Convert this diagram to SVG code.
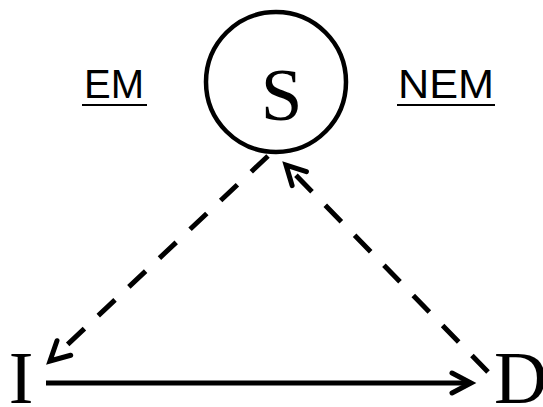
<svg xmlns="http://www.w3.org/2000/svg" width="543" height="407" viewBox="0 0 543 407">
<style>
.node-ring{fill:none;stroke:#000;stroke-width:4.5}
.big{font-family:"Liberation Serif","Times New Roman",serif;fill:#000}
.lbl{font-family:"Liberation Sans",Arial,sans-serif;font-size:40px;fill:#000}
.ul{stroke:#000;stroke-width:2}
.edge{fill:none;stroke:#000;stroke-width:5}
.dash{stroke-dasharray:23 19}
</style>
<defs>
<marker id="chev" markerUnits="userSpaceOnUse" viewBox="-30 -15 40 30" refX="0" refY="0" markerWidth="40" markerHeight="30" orient="auto" overflow="visible">
<path d="M -19,-10 L 0,0 L -19,10" fill="none" stroke="#000" stroke-width="5" stroke-linecap="round" stroke-linejoin="miter"/>
</marker>
</defs>
<g id="connectors">
<path class="edge dash" d="M 268,156 L 50,361" marker-end="url(#chev)"/>
<path class="edge dash" d="M 488,372 L 286,165" marker-end="url(#chev)"/>
<path class="edge" d="M 46,383 L 471,383" marker-end="url(#chev)"/>
</g>
<g id="node-S">
<circle class="node-ring" cx="276" cy="82" r="70"/>
<text class="big" x="281.5" y="120" font-size="75" text-anchor="middle">S</text>
</g>
<g id="node-I">
<text class="big" x="8.7" y="403" font-size="74">I</text>
</g>
<g id="node-D">
<text class="big" x="494" y="403" font-size="74">D</text>
</g>
<g id="label-EM">
<text class="lbl" x="84" y="98" textLength="60" lengthAdjust="spacingAndGlyphs">EM</text>
<line class="ul" x1="82" y1="105" x2="147" y2="105"/>
</g>
<g id="label-NEM">
<text class="lbl" x="398" y="98" textLength="96" lengthAdjust="spacingAndGlyphs">NEM</text>
<line class="ul" x1="397" y1="105" x2="495" y2="105"/>
</g>
</svg>
